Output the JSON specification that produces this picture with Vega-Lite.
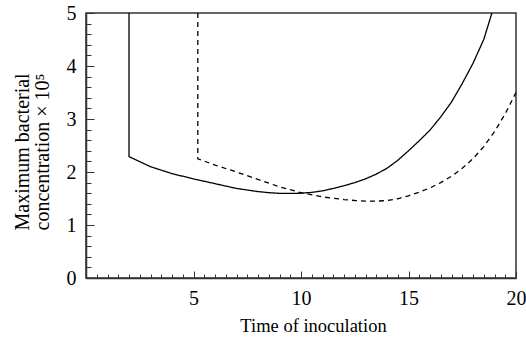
{
  "$schema": "https://vega.github.io/schema/vega-lite/v6.json",
  "autosize": {"type": "none"},
  "width": 430,
  "height": 265,
  "padding": {"left": 86, "top": 13, "right": 10, "bottom": 60},
  "background": "white",
  "config": {
    "view": {"stroke": "#333", "strokeWidth": 1.5},
    "font": "Liberation Serif",
    "axis": {"grid": false, "domainColor": "#333", "domainWidth": 1.5, "tickColor": "#333", "labelFont": "Liberation Serif", "titleFont": "Liberation Serif", "labelColor": "#000", "titleColor": "#000", "titleFontWeight": "normal"}
  },
  "data": {"values": [
    {"s": "a", "i": 0, "x": 2.0, "y": 5.0},
    {"s": "a", "i": 1, "x": 2.0, "y": 2.29},
    {"s": "a", "i": 2, "x": 3, "y": 2.1},
    {"s": "a", "i": 3, "x": 4, "y": 1.97},
    {"s": "a", "i": 4, "x": 5, "y": 1.87},
    {"s": "a", "i": 5, "x": 6, "y": 1.78},
    {"s": "a", "i": 6, "x": 7, "y": 1.69},
    {"s": "a", "i": 7, "x": 8, "y": 1.63},
    {"s": "a", "i": 8, "x": 8.5, "y": 1.61},
    {"s": "a", "i": 9, "x": 9, "y": 1.597},
    {"s": "a", "i": 10, "x": 9.5, "y": 1.595},
    {"s": "a", "i": 11, "x": 10, "y": 1.6},
    {"s": "a", "i": 12, "x": 10.5, "y": 1.615},
    {"s": "a", "i": 13, "x": 11, "y": 1.645},
    {"s": "a", "i": 14, "x": 11.5, "y": 1.69},
    {"s": "a", "i": 15, "x": 12, "y": 1.74},
    {"s": "a", "i": 16, "x": 12.5, "y": 1.8},
    {"s": "a", "i": 17, "x": 13, "y": 1.87},
    {"s": "a", "i": 18, "x": 13.5, "y": 1.96},
    {"s": "a", "i": 19, "x": 14, "y": 2.07},
    {"s": "a", "i": 20, "x": 14.5, "y": 2.22},
    {"s": "a", "i": 21, "x": 15, "y": 2.4},
    {"s": "a", "i": 22, "x": 15.5, "y": 2.59},
    {"s": "a", "i": 23, "x": 16, "y": 2.79},
    {"s": "a", "i": 24, "x": 16.5, "y": 3.04},
    {"s": "a", "i": 25, "x": 17, "y": 3.32},
    {"s": "a", "i": 26, "x": 17.5, "y": 3.67},
    {"s": "a", "i": 27, "x": 18, "y": 4.05},
    {"s": "a", "i": 28, "x": 18.5, "y": 4.5},
    {"s": "a", "i": 29, "x": 18.88, "y": 5.0},
    {"s": "b", "i": 0, "x": 5.2, "y": 5.0},
    {"s": "b", "i": 1, "x": 5.2, "y": 2.25},
    {"s": "b", "i": 2, "x": 6, "y": 2.13},
    {"s": "b", "i": 3, "x": 7, "y": 2.0},
    {"s": "b", "i": 4, "x": 8, "y": 1.86},
    {"s": "b", "i": 5, "x": 9, "y": 1.72},
    {"s": "b", "i": 6, "x": 10, "y": 1.61},
    {"s": "b", "i": 7, "x": 11, "y": 1.53},
    {"s": "b", "i": 8, "x": 12, "y": 1.48},
    {"s": "b", "i": 9, "x": 12.5, "y": 1.462},
    {"s": "b", "i": 10, "x": 13, "y": 1.452},
    {"s": "b", "i": 11, "x": 13.5, "y": 1.45},
    {"s": "b", "i": 12, "x": 14, "y": 1.46},
    {"s": "b", "i": 13, "x": 14.5, "y": 1.495},
    {"s": "b", "i": 14, "x": 15, "y": 1.55},
    {"s": "b", "i": 15, "x": 15.5, "y": 1.62},
    {"s": "b", "i": 16, "x": 16, "y": 1.7},
    {"s": "b", "i": 17, "x": 16.5, "y": 1.8},
    {"s": "b", "i": 18, "x": 17, "y": 1.92},
    {"s": "b", "i": 19, "x": 17.5, "y": 2.07},
    {"s": "b", "i": 20, "x": 18, "y": 2.25},
    {"s": "b", "i": 21, "x": 18.5, "y": 2.48},
    {"s": "b", "i": 22, "x": 19, "y": 2.76},
    {"s": "b", "i": 23, "x": 19.5, "y": 3.1},
    {"s": "b", "i": 24, "x": 20, "y": 3.5}
  ]},
  "resolve": {"axis": {"x": "independent", "y": "independent"}},
  "layer": [
    {
      "mark": {"type": "line", "opacity": 0},
      "encoding": {
        "x": {"field": "x", "type": "quantitative", "scale": {"domain": [0, 20], "nice": false},
              "axis": {"orient": "bottom", "values": [0.5,1,1.5,2,2.5,3,3.5,4,4.5,5.5,6,6.5,7,7.5,8,8.5,9,9.5,10.5,11,11.5,12,12.5,13,13.5,14,14.5,15.5,16,16.5,17,17.5,18,18.5,19,19.5], "labels": false, "tickSize": -4, "domain": false, "title": null}},
        "y": {"field": "y", "type": "quantitative", "scale": {"domain": [0, 5], "nice": false},
              "axis": {"orient": "left", "values": [0.2,0.4,0.6,0.8,1.2,1.4,1.6,1.8,2.2,2.4,2.6,2.8,3.2,3.4,3.6,3.8,4.2,4.4,4.6,4.8], "labels": false, "tickSize": -5, "domain": false, "title": null}},
        "detail": {"field": "s"}
      }
    },
    {
      "mark": {"type": "line", "color": "#000", "strokeWidth": 1.3},
      "encoding": {
        "x": {"field": "x", "type": "quantitative", "scale": {"domain": [0, 20], "nice": false},
              "axis": {"orient": "bottom", "values": [5, 10, 15, 20], "tickSize": -7, "labelPadding": 17, "labelFontSize": 20, "title": "Time of inoculation", "titleFontSize": 18.5, "titleX": 227, "titleY": 38, "titleBaseline": "top", "titleAlign": "center", "labelFlush": false}},
        "y": {"field": "y", "type": "quantitative", "scale": {"domain": [0, 5], "nice": false},
              "axis": {"orient": "left", "values": [0, 1, 2, 3, 4, 5], "tickSize": -8, "labelPadding": 18, "labelFontSize": 20, "title": ["Maximum bacterial", "concentration × 10⁵"], "titleFontSize": 20, "titleAngle": -90, "titleAlign": "left", "titleBaseline": "top", "titleX": -74, "titleY": 217, "titleLineHeight": 20, "labelFlush": false}},
        "strokeDash": {"field": "s", "type": "nominal", "scale": {"domain": ["a", "b"], "range": [[1, 0], [5, 4]]}, "legend": null},
        "detail": {"field": "s"},
        "order": {"field": "i", "type": "quantitative"}
      }
    }
  ]
}
